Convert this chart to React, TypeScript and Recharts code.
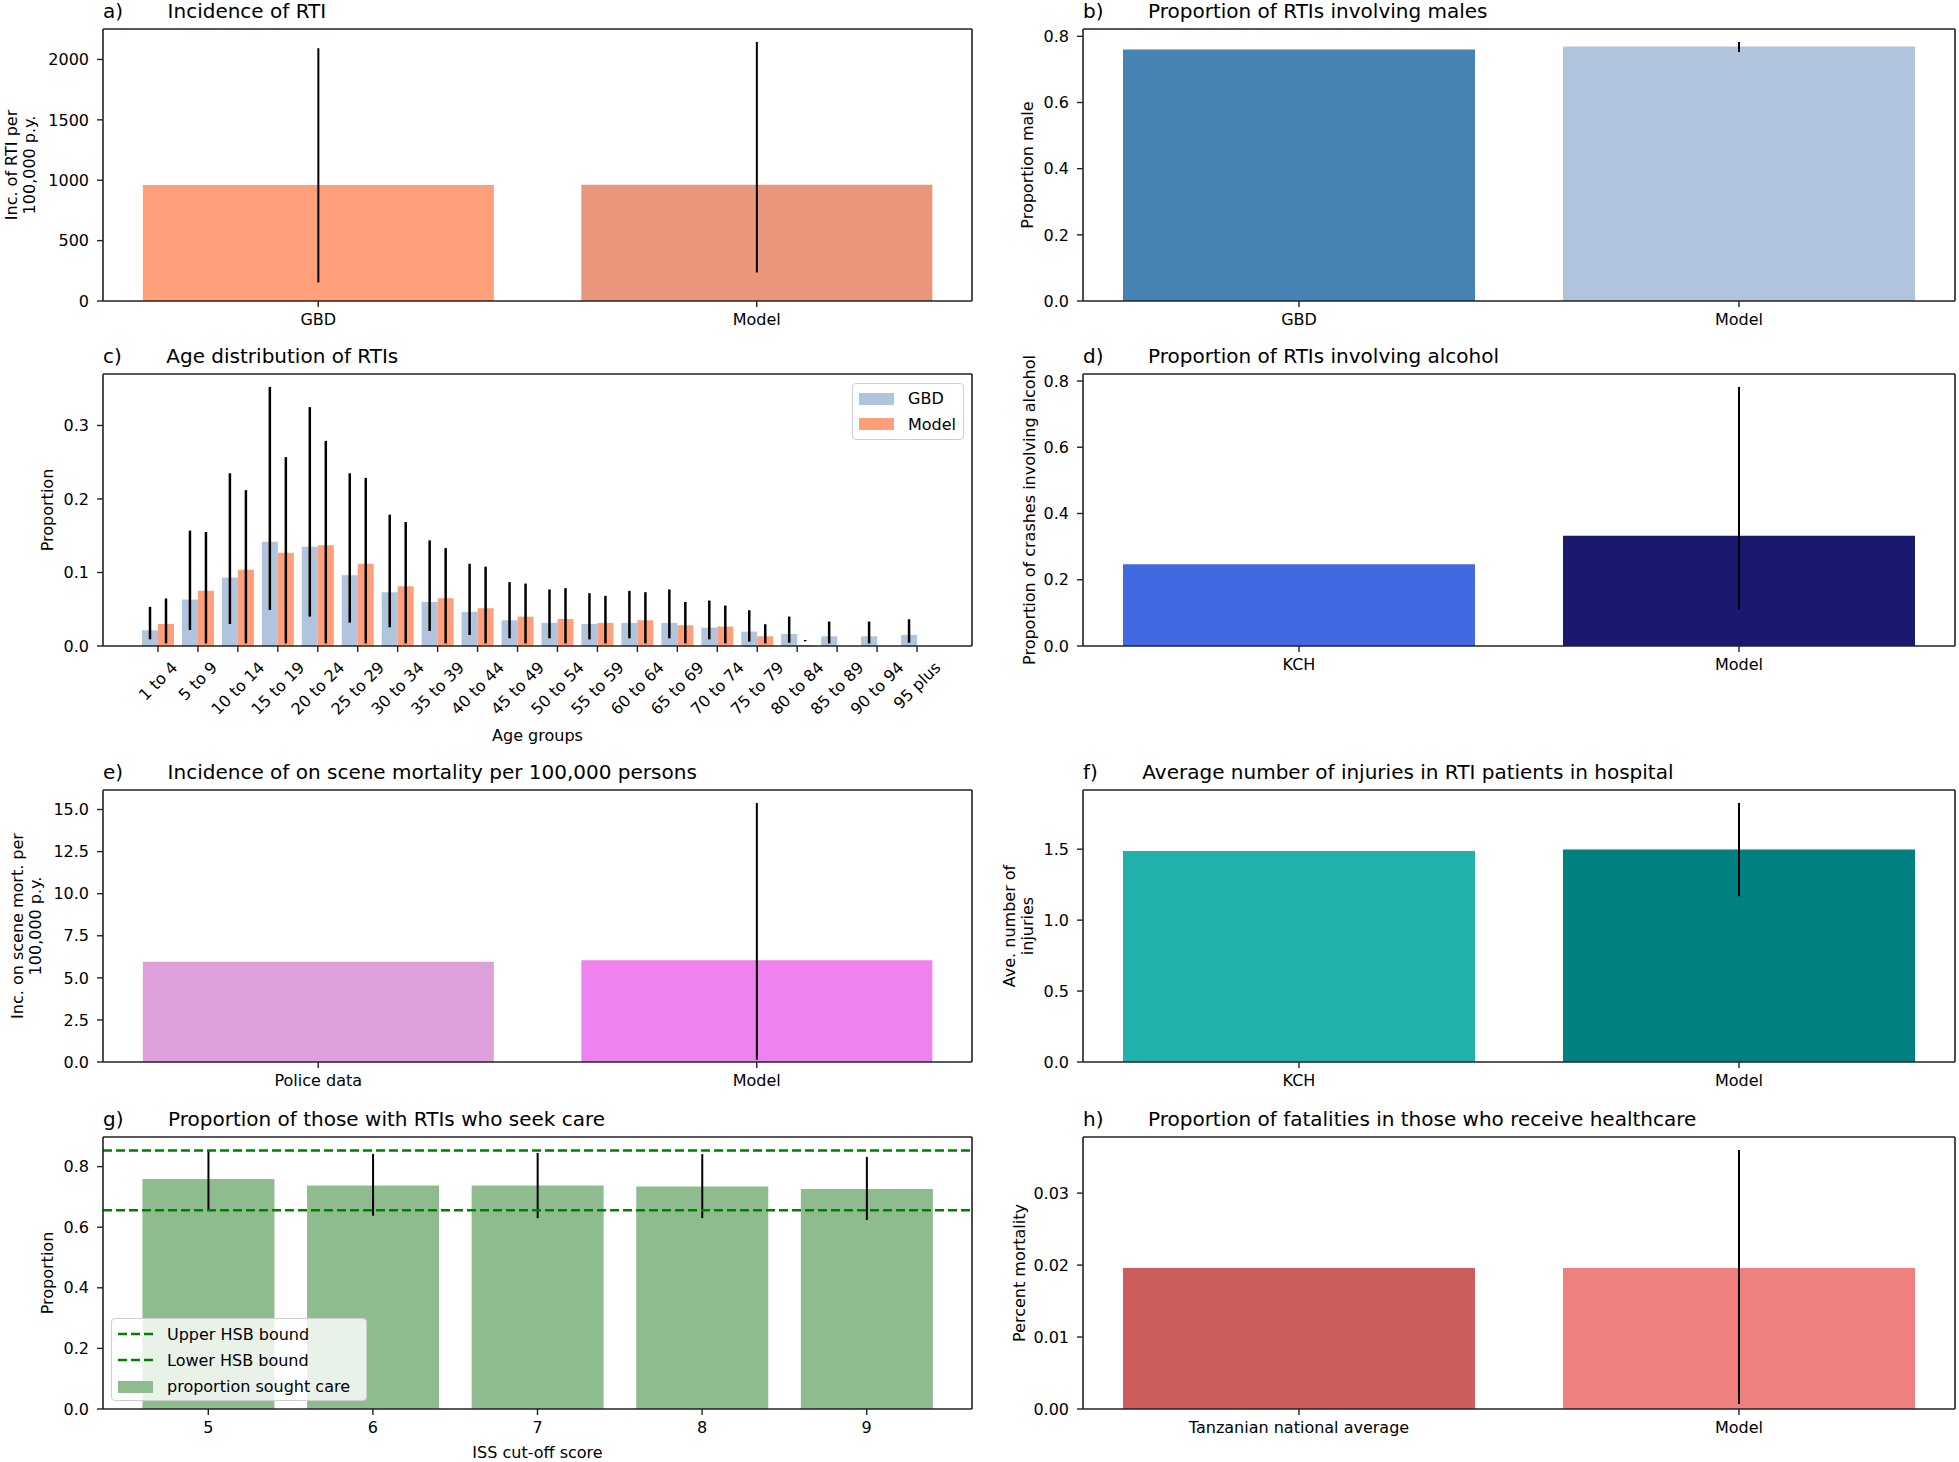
import React from 'react';
import { BarChart, Bar, XAxis, YAxis, Cell, ErrorBar, ReferenceLine, Legend } from 'recharts';

// a) incidence of RTI
const incCats = ['GBD', 'Model'];
const incVals = [960, 962];
const incLo = [154, 236];
const incHi = [2093, 2145];
const incTicks = [0, 500, 1000, 1500, 2000];

// b) proportion male
const maleCats = ['GBD', 'Model'];
const maleVals = [0.76, 0.769];
const maleLo = [null, 0.753];
const maleHi = [null, 0.783];
const propTicks = [0, 0.2, 0.4, 0.6, 0.8];

// c) age distribution
const ageGroups = ['1 to 4', '5 to 9', '10 to 14', '15 to 19', '20 to 24', '25 to 29', '30 to 34', '35 to 39',
  '40 to 44', '45 to 49', '50 to 54', '55 to 59', '60 to 64', '65 to 69', '70 to 74', '75 to 79',
  '80 to 84', '85 to 89', '90 to 94', '95 plus'];
const gbdAge = [0.0214, 0.0632, 0.0932, 0.1419, 0.135, 0.0964, 0.0732, 0.06, 0.0464, 0.035, 0.0314, 0.03,
  0.0314, 0.0314, 0.025, 0.0196, 0.0164, 0.0132, 0.0132, 0.015];
const gbdAgeLo = [0.0091, 0.0218, 0.03, 0.0491, 0.04, 0.0318, 0.0255, 0.0205, 0.015, 0.0105, 0.0105, 0.009,
  0.0105, 0.0105, 0.009, 0.006, 0.0045, 0.0036, 0.0036, 0.0045];
const gbdAgeHi = [0.0532, 0.157, 0.235, 0.3524, 0.325, 0.235, 0.1787, 0.1437, 0.1119, 0.0869, 0.0769, 0.0718,
  0.075, 0.0769, 0.0618, 0.0487, 0.04, 0.0332, 0.0332, 0.0364];
const modelAge = [0.03, 0.075, 0.1037, 0.1269, 0.1369, 0.1119, 0.0814, 0.065, 0.0514, 0.04, 0.0368, 0.0314,
  0.035, 0.0282, 0.0264, 0.0132, 0.0014, 0, 0, 0];
const modelAgeLo = [0.0036, 0.0036, 0.0036, 0.0036, 0.0036, 0.0036, 0.0036, 0.0036, 0.0036, 0.0036, 0.0036,
  0.0036, 0.0036, 0.0036, 0.0036, 0.0036, 0.0064, null, null, null];
const modelAgeHi = [0.0646, 0.155, 0.212, 0.257, 0.279, 0.2287, 0.1687, 0.1332, 0.108, 0.085, 0.0787, 0.0682,
  0.0732, 0.06, 0.055, 0.0296, 0.0082, null, null, null];
const ageTicks = [0, 0.1, 0.2, 0.3];

// d) alcohol
const alcCats = ['KCH', 'Model'];
const alcVals = [0.247, 0.333];
const alcLo = [null, 0.111];
const alcHi = [null, 0.782];

// e) on scene mortality
const mortCats = ['Police data', 'Model'];
const mortVals = [5.96, 6.04];
const mortLo = [null, 0.14];
const mortHi = [null, 15.39];
const mortTicks = [0, 2.5, 5, 7.5, 10, 12.5, 15];

// f) injuries per patient
const injCats = ['KCH', 'Model'];
const injVals = [1.488, 1.498];
const injLo = [null, 1.169];
const injHi = [null, 1.826];
const injTicks = [0, 0.5, 1, 1.5];

// g) health seeking
const issCats = ['5', '6', '7', '8', '9'];
const careVals = [0.759, 0.738, 0.738, 0.734, 0.726];
const careLo = [0.657, 0.638, 0.63, 0.63, 0.624];
const careHi = [0.855, 0.842, 0.845, 0.841, 0.832];
const hsbUpper = 0.853;
const hsbLower = 0.656;

// h) fatalities in hospital
const fatCats = ['Tanzanian national average', 'Model'];
const fatVals = [0.0196, 0.0196];
const fatLo = [null, 0.0007];
const fatHi = [null, 0.036];
const fatTicks = [0, 0.01, 0.02, 0.03];

const FONT = '"DejaVu Sans", sans-serif';
const AX_H = 272;
const YW = 70;
const COL_L = 103;
const COL_R = 1083;
const W_L = 869;
const W_R = 872;
const ROWS = [29, 374, 790, 1137];

const tickStyle = { fontSize: 16, fill: '#000' };
const spine = { stroke: '#222', strokeWidth: 1.6 };
const tickLn = { stroke: '#222', strokeWidth: 1.4 };

let ctx: CanvasRenderingContext2D | null = null;
function textWidth(s: string, fs: number) {
  if (!ctx) ctx = document.createElement('canvas').getContext('2d');
  if (!ctx) return s.length * fs * 0.6;
  ctx.font = `${fs}px "DejaVu Sans"`;
  return ctx.measureText(s).width;
}

function AgeTick({ x, y, payload }: any) {
  const fs = 16;
  const w = textWidth(payload.value, fs);
  const half = ((w + fs * 1.17) * Math.SQRT1_2) / 2;
  return (
    <text transform={`translate(${x},${y + half}) rotate(-45)`} textAnchor="middle" dominantBaseline="central"
      fontSize={fs} fill="#000">{payload.value}</text>
  );
}

function Title({ left, top, tag, text }: any) {
  return (
    <div style={{ position: 'absolute', left, top: top - 28, fontSize: 20, lineHeight: '20px', whiteSpace: 'pre' }}>
      {`${tag}       ${text}`}
    </div>
  );
}

function YLabel({ cx, cy, text }: any) {
  return (
    <div style={{ position: 'absolute', left: cx, top: cy, transform: 'translate(-50%, -50%) rotate(-90deg)',
      fontSize: 16, lineHeight: '18px', textAlign: 'center', whiteSpace: 'pre' }}>{text}</div>
  );
}

function XLabel({ cx, cy, text }: any) {
  return (
    <div style={{ position: 'absolute', left: cx, top: cy, transform: 'translate(-50%, -50%)', fontSize: 16,
      whiteSpace: 'nowrap' }}>{text}</div>
  );
}

// the top and right spines are drawn as blank axes 1px thick
function frameAxes(yMax: number) {
  return [
    <XAxis key="top" xAxisId="top" orientation="top" dataKey="name" height={1} tick={false} tickLine={false}
      axisLine={spine} />,
    <YAxis key="right" yAxisId="right" orientation="right" width={1} type="number" domain={[0, yMax]}
      tick={false} tickLine={false} axisLine={spine} />,
  ];
}

function PairPanel({ left, top, width, cats, vals, lo, hi, colors, ticks, digits }: any) {
  const data = cats.map((name: string, i: number) => ({
    name,
    value: vals[i],
    err: lo[i] == null ? null : [vals[i] - lo[i], hi[i] - vals[i]],
  }));
  const yMax = Math.max(...vals, ...hi.filter((v: number | null) => v != null)) * 1.05;
  return (
    <div style={{ position: 'absolute', left: left - YW, top: top - 2 }}>
      <BarChart width={YW + width + 2} height={2 + AX_H + 40} data={data}
        margin={{ top: 1, right: 1, bottom: 0, left: 0 }} barCategoryGap="10%">
        <XAxis dataKey="name" height={40} interval={0} tickSize={6} tickMargin={7} tick={tickStyle}
          tickLine={tickLn} axisLine={spine} padding={{ left: -4, right: -4 }} />
        <YAxis width={YW} type="number" domain={[0, yMax]} ticks={ticks} interval={0} tickSize={6} tickMargin={8}
          tick={tickStyle} tickLine={tickLn} axisLine={spine} tickFormatter={(v: number) => v.toFixed(digits)} />
        {frameAxes(yMax)}
        <Bar dataKey="value" isAnimationActive={false}>
          {data.map((d: any, i: number) => <Cell key={d.name} fill={colors[i]} />)}
          <ErrorBar dataKey="err" width={0} stroke="#000" strokeWidth={2} direction="y" />
        </Bar>
      </BarChart>
    </div>
  );
}

const legendBox: React.CSSProperties = {
  background: 'rgba(255,255,255,0.8)', border: '1px solid #cfcfcf', borderRadius: 4, boxSizing: 'border-box',
  fontSize: 16, fontFamily: FONT, color: '#000',
};

function Swatch({ kind, color }: any) {
  return (
    <svg width={35} height={14} style={{ marginRight: 14, flex: 'none' }}>
      {kind === 'line'
        ? <line x1={0} y1={7} x2={35} y2={7} stroke={color} strokeWidth={2.5} strokeDasharray="9 4" />
        : <rect x={0} y={1} width={35} height={12} fill={color} />}
    </svg>
  );
}

function LegendRows({ rows, rowH }: any) {
  return (
    <div style={{ ...legendBox, width: '100%', height: '100%', padding: '2px 0 0 6px' }}>
      {rows.map((r: any) => (
        <div key={r.label} style={{ display: 'flex', alignItems: 'center', height: rowH, whiteSpace: 'nowrap' }}>
          <Swatch kind={r.kind} color={r.color} />
          <span>{r.label}</span>
        </div>
      ))}
    </div>
  );
}

function AgePanel() {
  const top = ROWS[1];
  const data = ageGroups.map((name, i) => ({
    name,
    gbd: gbdAge[i],
    model: modelAge[i],
    gbdErr: [gbdAge[i] - gbdAgeLo[i], gbdAgeHi[i] - gbdAge[i]],
    modelErr: modelAgeLo[i] == null ? null : [modelAge[i] - (modelAgeLo[i] as number), (modelAgeHi[i] as number) - modelAge[i]],
  }));
  const yMax = Math.max(...gbdAgeHi) * 1.05;
  return (
    <div style={{ position: 'absolute', left: COL_L - YW, top: top - 2 }}>
      <BarChart width={YW + W_L + 2} height={2 + AX_H + 100} data={data}
        margin={{ top: 1, right: 1, bottom: 0, left: 0 }} barGap={0} barSize={16}>
        <XAxis dataKey="name" height={100} interval={0} tickSize={6} tickMargin={6} tick={<AgeTick />}
          tickLine={tickLn} axisLine={spine} padding={{ left: 35, right: 35 }} />
        <YAxis width={YW} type="number" domain={[0, yMax]} ticks={ageTicks} interval={0} tickSize={6}
          tickMargin={8} tick={tickStyle} tickLine={tickLn} axisLine={spine}
          tickFormatter={(v: number) => v.toFixed(1)} />
        {frameAxes(yMax)}
        <Legend layout="vertical" align="center" verticalAlign="middle"
          wrapperStyle={{ left: 819, top: 11, width: 112, height: 57 }}
          content={() => (
            <LegendRows rowH={25.5} rows={[
              { kind: 'rect', color: '#B0C4DE', label: 'GBD' },
              { kind: 'rect', color: '#FFA07A', label: 'Model' },
            ]} />
          )} />
        <Bar dataKey="gbd" name="GBD" fill="#B0C4DE" isAnimationActive={false}>
          <ErrorBar dataKey="gbdErr" width={0} stroke="#000" strokeWidth={2.5} direction="y" />
        </Bar>
        <Bar dataKey="model" name="Model" fill="#FFA07A" isAnimationActive={false}>
          <ErrorBar dataKey="modelErr" width={0} stroke="#000" strokeWidth={2.5} direction="y" />
        </Bar>
      </BarChart>
    </div>
  );
}

function CarePanel() {
  const top = ROWS[3];
  const data = issCats.map((name, i) => ({
    name,
    value: careVals[i],
    err: [careVals[i] - careLo[i], careHi[i] - careVals[i]],
  }));
  const yMax = Math.max(...careHi, hsbUpper) * 1.05;
  return (
    <div style={{ position: 'absolute', left: COL_L - YW, top: top - 2 }}>
      <BarChart width={YW + W_L + 2} height={2 + AX_H + 40} data={data}
        margin={{ top: 1, right: 1, bottom: 0, left: 0 }} barCategoryGap="10%">
        <XAxis dataKey="name" height={40} interval={0} tickSize={6} tickMargin={7} tick={tickStyle}
          tickLine={tickLn} axisLine={spine} padding={{ left: 23, right: 23 }} />
        <YAxis width={YW} type="number" domain={[0, yMax]} ticks={propTicks} interval={0} tickSize={6}
          tickMargin={8} tick={tickStyle} tickLine={tickLn} axisLine={spine}
          tickFormatter={(v: number) => v.toFixed(1)} />
        {frameAxes(yMax)}
        <Bar dataKey="value" name="proportion sought care" fill="#8FBC8F" isAnimationActive={false}>
          <ErrorBar dataKey="err" width={0} stroke="#000" strokeWidth={2} direction="y" />
        </Bar>
        <ReferenceLine y={hsbUpper} stroke="#008000" strokeWidth={2.5} strokeDasharray="9 4" />
        <ReferenceLine y={hsbLower} stroke="#008000" strokeWidth={2.5} strokeDasharray="9 4" />
        <Legend layout="vertical" align="center" verticalAlign="middle"
          wrapperStyle={{ left: 78, top: 183, width: 256, height: 83 }}
          content={() => (
            <LegendRows rowH={26.3} rows={[
              { kind: 'line', color: '#008000', label: 'Upper HSB bound' },
              { kind: 'line', color: '#008000', label: 'Lower HSB bound' },
              { kind: 'rect', color: '#8FBC8F', label: 'proportion sought care' },
            ]} />
          )} />
      </BarChart>
    </div>
  );
}

export default function App() {
  return (
    <div style={{ position: 'absolute', left: 0, top: 0, width: 1959, height: 1462, background: '#fff',
      fontFamily: FONT, color: '#000', overflow: 'hidden' }}>
      <Title left={COL_L} top={ROWS[0]} tag="a)" text="Incidence of RTI" />
      <YLabel cx={21} cy={ROWS[0] + AX_H / 2} text={'Inc. of RTI per\n100,000 p.y.'} />
      <PairPanel left={COL_L} top={ROWS[0]} width={W_L} cats={incCats} vals={incVals} lo={incLo} hi={incHi}
        colors={['#FFA07A', '#E9967A']} ticks={incTicks} digits={0} />

      <Title left={COL_R} top={ROWS[0]} tag="b)" text="Proportion of RTIs involving males" />
      <YLabel cx={1028} cy={ROWS[0] + AX_H / 2} text="Proportion male" />
      <PairPanel left={COL_R} top={ROWS[0]} width={W_R} cats={maleCats} vals={maleVals} lo={maleLo} hi={maleHi}
        colors={['#4682B4', '#B0C4DE']} ticks={propTicks} digits={1} />

      <Title left={COL_L} top={ROWS[1]} tag="c)" text="Age distribution of RTIs" />
      <YLabel cx={48} cy={ROWS[1] + AX_H / 2} text="Proportion" />
      <AgePanel />
      <XLabel cx={COL_L + W_L / 2} cy={735} text="Age groups" />

      <Title left={COL_R} top={ROWS[1]} tag="d)" text="Proportion of RTIs involving alcohol" />
      <YLabel cx={1030} cy={ROWS[1] + AX_H / 2} text="Proportion of crashes involving alcohol" />
      <PairPanel left={COL_R} top={ROWS[1]} width={W_R} cats={alcCats} vals={alcVals} lo={alcLo} hi={alcHi}
        colors={['#4169E1', '#191970']} ticks={propTicks} digits={1} />

      <Title left={COL_L} top={ROWS[2]} tag="e)" text="Incidence of on scene mortality per 100,000 persons" />
      <YLabel cx={27} cy={ROWS[2] + AX_H / 2} text={'Inc. on scene mort. per\n100,000 p.y.'} />
      <PairPanel left={COL_L} top={ROWS[2]} width={W_L} cats={mortCats} vals={mortVals} lo={mortLo} hi={mortHi}
        colors={['#DDA0DD', '#EE82EE']} ticks={mortTicks} digits={1} />

      <Title left={COL_R} top={ROWS[2]} tag="f)" text="Average number of injuries in RTI patients in hospital" />
      <YLabel cx={1019} cy={ROWS[2] + AX_H / 2} text={'Ave. number of\ninjuries'} />
      <PairPanel left={COL_R} top={ROWS[2]} width={W_R} cats={injCats} vals={injVals} lo={injLo} hi={injHi}
        colors={['#20B2AA', '#008080']} ticks={injTicks} digits={1} />

      <Title left={COL_L} top={ROWS[3]} tag="g)" text="Proportion of those with RTIs who seek care" />
      <YLabel cx={48} cy={ROWS[3] + AX_H / 2} text="Proportion" />
      <CarePanel />
      <XLabel cx={COL_L + W_L / 2} cy={1452} text="ISS cut-off score" />

      <Title left={COL_R} top={ROWS[3]} tag="h)" text="Proportion of fatalities in those who receive healthcare" />
      <YLabel cx={1020} cy={ROWS[3] + AX_H / 2} text="Percent mortality" />
      <PairPanel left={COL_R} top={ROWS[3]} width={W_R} cats={fatCats} vals={fatVals} lo={fatLo} hi={fatHi}
        colors={['#CD5C5C', '#F08080']} ticks={fatTicks} digits={2} />
    </div>
  );
}
